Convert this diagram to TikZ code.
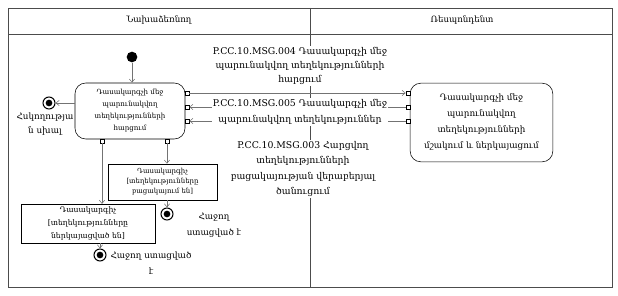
\documentclass[tikz,border=0pt]{standalone}
\usepackage{fontspec}
\newfontfamily\hyfont{DejaVu Serif}
\usetikzlibrary{arrows.meta,positioning,calc}

\tikzset{
  act/.style={draw, rounded corners=8pt, align=center, inner sep=1pt},
  objbox/.style={draw, align=center, inner sep=1pt},
  startdot/.style={circle, fill=black, inner sep=0, minimum size=8pt},
  enddot/.style={circle, draw, line width=0.8pt, inner sep=0, minimum size=9pt,
    path picture={\fill (path picture bounding box.center) circle (2.5pt);}},
  port/.style={draw, fill=white, inner sep=0, minimum size=3pt, line width=0.4pt},
  msg/.style={fill=white, align=center, inner sep=1pt},
  flow/.style={draw=black!55, -{Straight Barb[length=2.5pt,width=4pt]}},
  wire/.style={draw=black!55},
}

\begin{document}
\begin{tikzpicture}[x=0.75pt,y=0.75pt,yscale=-1,xscale=1]
\useasboundingbox (0,0) rectangle (618,296);

%Frame and lanes
\draw [black!70] (8,8) rectangle (612,287) ;
\draw [black!70] (8,34) -- (612,34) ;
\draw [black!70] (310,8) -- (310,287) ;
\node [font=\hyfont\fontsize{6.5}{8}\selectfont] (lane1) at (159,20) {Նախաձեռնող};
\node [font=\hyfont\fontsize{6.5}{8}\selectfont] (lane2) at (462,20) {Ռեսպոնդենտ};

%Activities
\node [startdot] (start) at (132,57) {};
\node [act, minimum width=82.5pt, minimum height=42pt, font=\hyfont\fontsize{5.3}{9}\selectfont] (req) at (130,111)
  {Դասակարգչի մեջ\\պարունակվող\\տեղեկությունների\\հարցում};
\node [act, minimum width=107pt, minimum height=59pt, font=\hyfont\fontsize{6.6}{12}\selectfont] (proc) at (481.5,122.5)
  {Դասակարգչի մեջ\\պարունակվող\\տեղեկությունների\\մշակում և ներկայացում};
\node [objbox, minimum width=82pt, minimum height=27pt, font=\hyfont\fontsize{5.2}{7.5}\selectfont] (absent) at (162.5,182)
  {Դասակարգիչ\\{[}տեղեկությունները\\բացակայում են{]}};
\node [objbox, minimum width=100.5pt, minimum height=29pt, font=\hyfont\fontsize{5.8}{10}\selectfont] (given) at (88,223.5)
  {Դասակարգիչ\\{[}տեղեկությունները\\ներկայացված են{]}};

%Final nodes
\node [enddot] (err) at (49,103) {};
\node [enddot] (okA) at (167,214) {};
\node [enddot] (okB) at (100,255) {};
\node [align=center, font=\hyfont\fontsize{6.6}{11}\selectfont] (errlbl) at (45,124) {Հսկողությա\\ն սխալ};
\node [align=center, font=\hyfont\fontsize{6.6}{12}\selectfont] (okAlbl) at (214,225) {Հաջող\\ստացված է};
\node [align=center, font=\hyfont\fontsize{6.6}{12.5}\selectfont] (okBlbl) at (151,263) {Հաջող ստացված\\է};

%Ports
\node [port] (rq1) at (187,93) {};
\node [port] (rq2) at (187,107) {};
\node [port] (rq3) at (187,121) {};
\node [port] (pr1) at (408,93) {};
\node [port] (pr2) at (408,107) {};
\node [port] (pr3) at (408,121) {};
\node [port] (rqb1) at (102,141) {};
\node [port] (rqb2) at (167,141) {};

%Control flows
\draw [flow] (start) -- (start |- req.north) ;
\draw [flow] (req.west |- err) -- (err) ;
\draw [flow] (rqb2) -- (rqb2 |- absent.north) ;
\draw [flow] (rqb1) -- (rqb1 |- given.north) ;
\draw [flow] (okA |- absent.south) -- (okA) ;
\draw [flow] (okB |- given.south) -- (okB) ;

%Messages
\draw [flow] (rq1) -- (pr1) ;
\draw [flow] (pr2) -- (rq2) ;
\draw [flow] (pr3) -- (rq3) ;
\node [msg, font=\hyfont\fontsize{7}{10.5}\selectfont] (m004) at (300,66)
  {P.CC.10.MSG.004 Դասակարգչի մեջ\\պարունակվող տեղեկությունների\\հարցում};
\node [msg, font=\hyfont\fontsize{7}{12.5}\selectfont] (m005) at (300,112)
  {P.CC.10.MSG.005 Դասակարգչի մեջ\\պարունակվող տեղեկություններ};
\node [msg, font=\hyfont\fontsize{7}{11.3}\selectfont] (m003) at (303,169)
  {P.CC.10.MSG.003 Հարցվող\\տեղեկությունների\\բացակայության վերաբերյալ\\ծանուցում};

\end{tikzpicture}
\end{document}
